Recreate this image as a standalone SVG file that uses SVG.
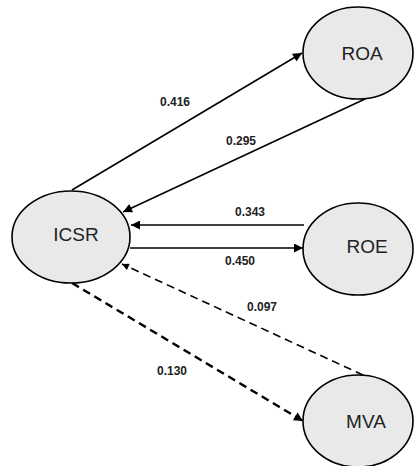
<svg xmlns="http://www.w3.org/2000/svg" width="414" height="466" viewBox="0 0 414 466">
<style>
.node ellipse{fill:#e9e9e9;stroke:#000;stroke-width:1.6}
.node text{font-family:"Liberation Sans",Arial,sans-serif;font-size:19px;fill:#222;text-anchor:middle}
.edge{stroke:#000;fill:none;stroke-width:1.6}
.dash{stroke-dasharray:8 5}
.thick{stroke-width:2.4}
.lbl{font-family:"Liberation Sans",Arial,sans-serif;font-size:12px;font-weight:bold;fill:#222;text-anchor:middle}
</style>
<defs>
<marker id="ah" viewBox="0 0 10 10" refX="10" refY="5" markerWidth="11" markerHeight="9" markerUnits="userSpaceOnUse" orient="auto">
<path d="M0,0 L10,5 L0,10 z" fill="#000"/>
</marker>
<marker id="ahs" viewBox="0 0 10 10" refX="10" refY="5" markerWidth="8" markerHeight="7" markerUnits="userSpaceOnUse" orient="auto">
<path d="M0,0 L10,5 L0,10 z" fill="#000"/>
</marker>
</defs>
<g id="connectors">
<line class="edge" x1="72" y1="190" x2="302" y2="53" marker-end="url(#ah)"/>
<line class="edge" x1="365" y1="99" x2="123" y2="212" marker-end="url(#ah)"/>
<line class="edge" x1="304" y1="225" x2="131" y2="225" marker-end="url(#ah)"/>
<line class="edge" x1="130" y1="248" x2="303" y2="248" marker-end="url(#ah)"/>
<line class="edge dash" x1="363" y1="375" x2="122" y2="264" marker-end="url(#ahs)"/>
<line class="edge dash thick" x1="72" y1="283" x2="303" y2="421" marker-end="url(#ah)"/>
<text class="lbl" x="175" y="106">0.416</text>
<text class="lbl" x="241" y="145">0.295</text>
<text class="lbl" x="250" y="216">0.343</text>
<text class="lbl" x="240" y="265">0.450</text>
<text class="lbl" x="262" y="311">0.097</text>
<text class="lbl" x="172" y="375">0.130</text>
</g>
<g id="ROA" class="node">
<ellipse cx="358" cy="53" rx="55" ry="46"/>
<text x="362" y="60">ROA</text>
</g>
<g id="ICSR" class="node">
<ellipse cx="71" cy="237" rx="59" ry="46"/>
<text x="76" y="241">ICSR</text>
</g>
<g id="ROE" class="node">
<ellipse cx="358" cy="249" rx="55" ry="46"/>
<text x="367" y="253">ROE</text>
</g>
<g id="MVA" class="node">
<ellipse cx="358" cy="421" rx="55" ry="46"/>
<text x="366" y="428">MVA</text>
</g>
</svg>
